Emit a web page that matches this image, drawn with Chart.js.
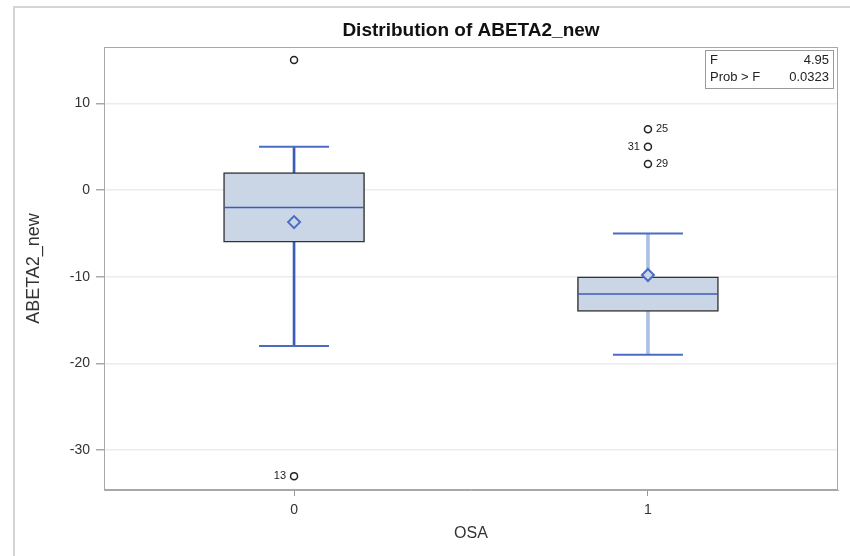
<!DOCTYPE html>
<html lang="en">
<head>
    <meta charset="UTF-8">
    <title>Distribution of ABETA2_new</title>
    <script src="https://cdn.jsdelivr.net/npm/chart.js"></script>
    <style>
        body { margin: 0; background: #fff; }
        #wrap { position: relative; width: 850px; height: 556px; }
        #frame { position: absolute; left: 13px; top: 6px; right: 0; bottom: 0;
                 border-left: 2px solid #d4d4d4; border-top: 2px solid #d4d4d4; }
        canvas { position: absolute; left: 0; top: 0; }
    </style>
</head>
<body>
<div id="wrap">
    <div id="frame"></div>
    <canvas id="chart" width="850" height="556"></canvas>
</div>
<script>
    // box plot summary
    const groups = [0, 1];
    const q1 = [-6, -14];
    const q3 = [2, -10];
    const medians = [-2, -12];
    const means = [-3.7, -9.8];
    const whiskerLow = [-18, -19];
    const whiskerHigh = [5, -5];

    const outlierX = [0, 0, 1, 1, 1];
    const outlierY = [15, -33, 7, 5, 3];
    const outlierLabels = ["", "13", "25", "31", "29"];
    const labelSide = ["", "left", "right", "left", "right"];

    const statNames = ["F", "Prob > F"];
    const statValues = ["4.95", "0.0323"];

    const whiskerColors = ["#3a5cb8", "#abc0e4"];
    const whiskerWidths = [2, 3];

    const datasets = [];

    groups.forEach((g, i) => {
        datasets.push({
            type: "bar",
            data: [{ x: g, y: [q3[i], whiskerHigh[i]] }, { x: g, y: [whiskerLow[i], q1[i]] }],
            backgroundColor: whiskerColors[i],
            barThickness: whiskerWidths[i],
            grouped: false,
            order: 5
        });
    });

    datasets.push({
        type: "bar",
        data: groups.map((g, i) => ({ x: g, y: [q1[i], q3[i]] })),
        backgroundColor: "#cad5e6",
        borderColor: "#333",
        borderWidth: 1.5,
        borderSkipped: false,
        barThickness: 141,
        grouped: false,
        order: 4
    });

    // whisker caps
    datasets.push({
        type: "scatter",
        data: groups.flatMap((g, i) => [{ x: g, y: whiskerLow[i] }, { x: g, y: whiskerHigh[i] }]),
        pointStyle: "line",
        pointRadius: 35,
        borderColor: "#4a6cc4",
        pointBorderWidth: 2,
        order: 3
    });

    // medians
    datasets.push({
        type: "scatter",
        data: groups.map((g, i) => ({ x: g, y: medians[i] })),
        pointStyle: "line",
        pointRadius: 70,
        borderColor: "#3a5cb8",
        pointBorderWidth: 1.5,
        order: 2
    });

    // means
    datasets.push({
        type: "scatter",
        data: groups.map((g, i) => ({ x: g, y: means[i] })),
        pointStyle: "rectRot",
        pointRadius: 6,
        backgroundColor: "#cad5e6",
        borderColor: "#4a6cc4",
        pointBorderWidth: 2,
        order: 1
    });

    // outliers
    datasets.push({
        type: "scatter",
        data: outlierX.map((x, i) => ({ x: x, y: outlierY[i] })),
        pointStyle: "circle",
        pointRadius: 3.5,
        backgroundColor: "#fff",
        borderColor: "#222",
        pointBorderWidth: 1.5,
        order: 0,
        outliers: true
    });

    const extras = {
        id: "extras",
        afterDraw(chart) {
            const ctx = chart.ctx;
            const a = chart.chartArea;
            ctx.save();
            // plot frame
            ctx.strokeStyle = "#a8a8a8";
            ctx.lineWidth = 1;
            ctx.strokeRect(a.left + 0.5, a.top + 0.5, a.right - a.left - 1, a.bottom - a.top - 1);

            // outlier labels
            const idx = chart.data.datasets.findIndex(d => d.outliers);
            const meta = chart.getDatasetMeta(idx);
            ctx.font = "11px 'Liberation Sans', Arial, sans-serif";
            ctx.fillStyle = "#222";
            ctx.textBaseline = "middle";
            meta.data.forEach((pt, i) => {
                if (!outlierLabels[i]) return;
                if (labelSide[i] === "left") {
                    ctx.textAlign = "right";
                    ctx.fillText(outlierLabels[i], pt.x - 8, pt.y);
                } else {
                    ctx.textAlign = "left";
                    ctx.fillText(outlierLabels[i], pt.x + 8, pt.y);
                }
            });

            // stats inset
            const bx = a.right - 133, by = a.top + 3, bw = 128, bh = 38;
            ctx.fillStyle = "#fff";
            ctx.fillRect(bx, by, bw, bh);
            ctx.strokeStyle = "#999";
            ctx.strokeRect(bx + 0.5, by + 0.5, bw, bh);
            ctx.fillStyle = "#222";
            ctx.font = "13px 'Liberation Sans', Arial, sans-serif";
            statNames.forEach((name, i) => {
                const y = by + 10 + i * 17;
                ctx.textAlign = "left";
                ctx.fillText(name, bx + 5, y);
                ctx.textAlign = "right";
                ctx.fillText(statValues[i], bx + bw - 4, y);
            });
            ctx.restore();
        }
    };

    new Chart(document.getElementById("chart"), {
        type: "bar",
        data: { datasets: datasets },
        plugins: [extras],
        options: {
            responsive: false,
            animation: false,
            layout: { autoPadding: false, padding: { left: 0, right: 12, top: 0, bottom: 0 } },
            plugins: {
                legend: { display: false },
                tooltip: { enabled: false },
                title: {
                    display: true,
                    text: "Distribution of ABETA2_new",
                    fullSize: false,
                    color: "#111",
                    font: { family: "'Liberation Sans', Arial, sans-serif", size: 19, weight: "bold", lineHeight: 1.2 },
                    padding: { top: 19.6, bottom: 4.6 }
                }
            },
            scales: {
                x: {
                    type: "linear",
                    offset: false,
                    min: -0.537,
                    max: 1.537,
                    afterFit(scale) { scale.height = 66; },
                    ticks: {
                        stepSize: 1,
                        includeBounds: false,
                        color: "#333",
                        padding: 6,
                        font: { family: "'Liberation Sans', Arial, sans-serif", size: 14 }
                    },
                    grid: { offset: false, drawOnChartArea: false, drawTicks: true, tickLength: 6, tickColor: "#999" },
                    border: { color: "#a8a8a8" },
                    title: {
                        display: true,
                        text: "OSA",
                        color: "#333",
                        font: { family: "'Liberation Sans', Arial, sans-serif", size: 16, lineHeight: 1.2 },
                        padding: { top: 0, bottom: 12.4 }
                    }
                },
                y: {
                    min: -34.6,
                    max: 16.5,
                    afterFit(scale) { scale.width = 104; },
                    ticks: {
                        stepSize: 10,
                        includeBounds: false,
                        color: "#333",
                        padding: 6,
                        font: { family: "'Liberation Sans', Arial, sans-serif", size: 14 }
                    },
                    grid: { color: "#ececec", lineWidth: 1.5, tickLength: 8, tickColor: "#aaa" },
                    border: { color: "#a8a8a8" },
                    title: {
                        display: true,
                        text: "ABETA2_new",
                        color: "#333",
                        font: { family: "'Liberation Sans', Arial, sans-serif", size: 18, lineHeight: 1.2 },
                        padding: { top: 23, bottom: 0 }
                    }
                }
            }
        }
    });
</script>
</body>
</html>
